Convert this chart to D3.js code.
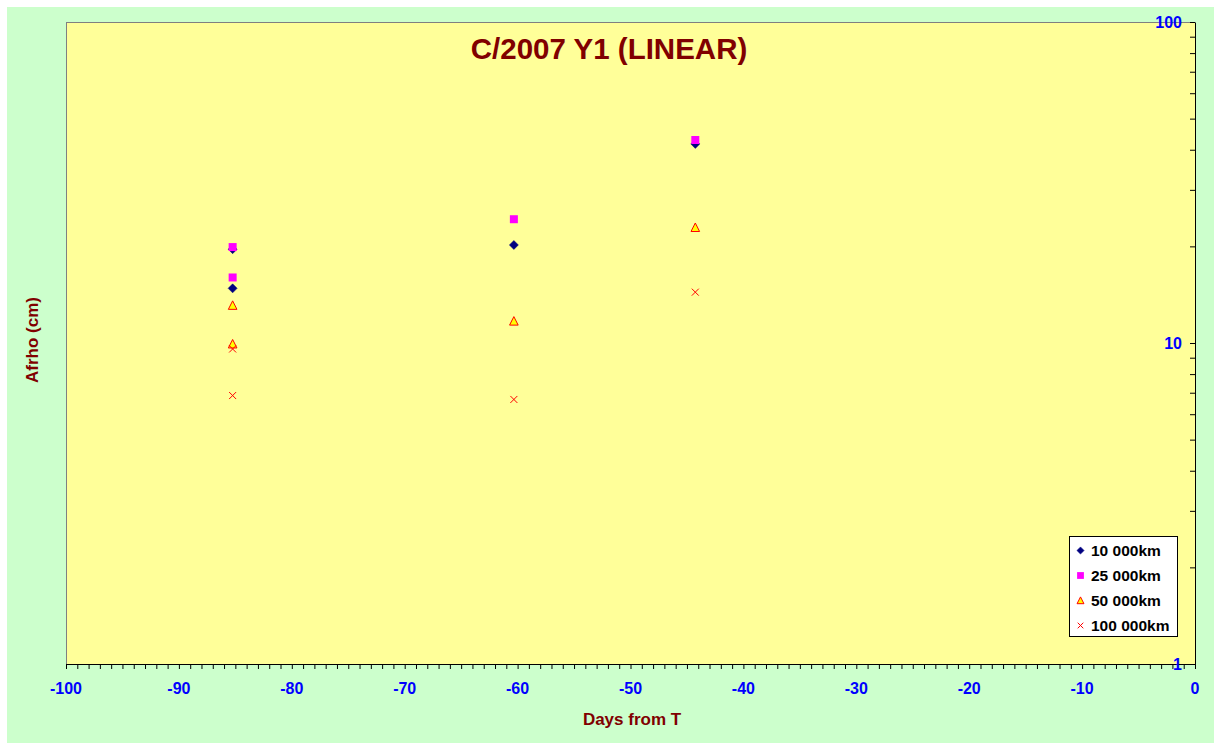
<!DOCTYPE html>
<html><head><meta charset="utf-8">
<script src="https://cdn.jsdelivr.net/npm/d3@7"></script>
<style>
html,body{margin:0;padding:0;background:#fff;}
svg{display:block;}
text{font-family:Arial,"Liberation Sans",sans-serif;font-weight:bold;}
</style></head>
<body>
<script>
// ---- data ----
const seriesNames = ["10 000km", "25 000km", "50 000km", "100 000km"];
const days = [-85.24, -85.24, -60.33, -44.26];
const afrho10k  = [19.6, 14.8, 20.2, 41.7];
const afrho25k  = [19.9, 16.0, 24.3, 42.9];
const afrho50k  = [13.1, 9.93, 11.7, 22.9];
const afrho100k = [9.58, 6.86, 6.67, 14.4];
const xTicks = [-100, -90, -80, -70, -60, -50, -40, -30, -20, -10, 0];
const yTicks = [1, 10, 100];
const titleText = "C/2007 Y1 (LINEAR)";
const xLabel = "Days from T";
const yLabel = "Afrho (cm)";

const W = 1221, H = 750;
const plot = {l: 66, r: 1195, t: 22, b: 664};

const svg = d3.select("body").append("svg").attr("width", W).attr("height", H);
svg.append("rect").attr("x", 7).attr("y", 7).attr("width", 1207).attr("height", 736).attr("fill", "#CCFFCC");
svg.append("rect").attr("x", plot.l).attr("y", plot.t).attr("width", plot.r - plot.l).attr("height", plot.b - plot.t).attr("fill", "#FFFF99");

const x = d3.scaleLinear().domain([-100, 0]).range([plot.l, plot.r]);
const y = d3.scaleLog().domain([1, 100]).range([plot.b, plot.t]);

// borders
svg.append("line").attr("x1", plot.l + 0.5).attr("x2", plot.l + 0.5).attr("y1", plot.t).attr("y2", plot.b).attr("stroke", "#808080");
svg.append("line").attr("x1", plot.l).attr("x2", plot.r).attr("y1", plot.t + 0.5).attr("y2", plot.t + 0.5).attr("stroke", "#808080");

// x axis
const xMinor = d3.range(-100, 1, 1);
const xAx = svg.append("g").attr("transform", `translate(0,${plot.b})`)
  .call(d3.axisBottom(x).tickValues(xMinor).tickSize(5).tickFormat(""));
xAx.select(".domain").attr("stroke", "#000");
xAx.selectAll("line").attr("stroke", "#000");
svg.append("g").selectAll("text").data(xTicks).join("text")
  .attr("x", d => x(d)).attr("y", 694).attr("text-anchor", "middle")
  .attr("font-size", 16).attr("fill", "#0000FF").text(d => d);

// y axis (right)
const yMinor = [];
[1, 10].forEach(dec => { for (let k = 1; k <= 10; k++) yMinor.push(dec * k); });
const yAx = svg.append("g").attr("transform", `translate(${plot.r},0)`)
  .call(d3.axisLeft(y).tickValues(yMinor).tickSize(5).tickSizeOuter(0).tickFormat(""));
yAx.select(".domain").attr("stroke", "#000");
yAx.selectAll("line").attr("stroke", "#000");
svg.append("g").selectAll("text").data(yTicks).join("text")
  .attr("x", 1182).attr("y", d => y(d) + 6).attr("text-anchor", "end")
  .attr("font-size", 16).attr("fill", "#0000FF").text(d => d);

// title & labels
svg.append("text").attr("x", 609).attr("y", 59).attr("text-anchor", "middle")
  .attr("font-size", 29.5).attr("fill", "#800000").text(titleText);
svg.append("text").attr("x", 632).attr("y", 725).attr("text-anchor", "middle")
  .attr("font-size", 17).attr("fill", "#800000").text(xLabel);
svg.append("text").attr("transform", "translate(38,340) rotate(-90)").attr("text-anchor", "middle")
  .attr("font-size", 17).attr("fill", "#800000").text(yLabel);

// markers
const markers = [
  {path: "M0,-4.5L4.5,0L0,4.5L-4.5,0Z", fill: "#000080", stroke: "#000080", sw: 0.5},
  {path: "M-4,-4L4,-4L4,4L-4,4Z", fill: "#FF00FF", stroke: "#FF00FF", sw: 0},
  {path: "M0,-4.5L4.3,4L-4.3,4Z", fill: "#FFFF00", stroke: "#FF0000", sw: 1},
  {path: "M-3.5,-3.5L3.5,3.5M3.5,-3.5L-3.5,3.5", fill: "none", stroke: "#FF0000", sw: 1}
];
const allSeries = [afrho10k, afrho25k, afrho50k, afrho100k];
allSeries.forEach((vals, i) => {
  const m = markers[i];
  svg.append("g").selectAll("path").data(vals).join("path")
    .attr("transform", (d, j) => `translate(${x(days[j])},${y(d)})`)
    .attr("d", m.path).attr("fill", m.fill).attr("stroke", m.stroke).attr("stroke-width", m.sw);
});

// legend
const lg = svg.append("g");
lg.append("rect").attr("x", 1069.5).attr("y", 536.5).attr("width", 108).attr("height", 100)
  .attr("fill", "#fff").attr("stroke", "#000").attr("stroke-width", 1);
seriesNames.forEach((name, i) => {
  const cy = 550.5 + i * 25;
  const m = markers[i];
  const s = i === 1 ? 0.85 : 0.8;
  lg.append("path").attr("transform", `translate(1080.5,${cy}) scale(${s})`)
    .attr("d", m.path).attr("fill", m.fill).attr("stroke", m.stroke).attr("stroke-width", m.sw / s);
  lg.append("text").attr("x", 1091).attr("y", cy + 5.5).attr("font-size", 15.5).attr("fill", "#000").text(name);
});
</script>
</body></html>
